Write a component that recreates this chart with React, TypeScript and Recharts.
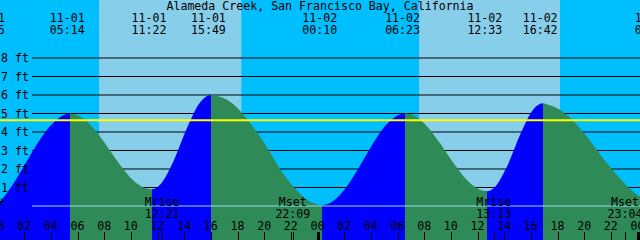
import React from 'react';
import { ComposedChart, Area, XAxis, YAxis, ReferenceArea, ReferenceLine } from 'recharts';

const title = 'Alameda Creek, San Francisco Bay, California';

// tide height (ft), hours from 11-01 00:00
const tideHours = [
  0, 1, 2, 3, 4, 5, 5.233, 6, 7, 8, 9, 10, 11, 11.367, 12, 13, 14, 15, 15.817,
  16, 17, 18, 19, 20, 21, 22, 23, 24, 24.167, 25, 26, 27, 28, 29, 30, 30.383,
  31, 32, 33, 34, 35, 36, 36.55, 37, 38, 39, 40, 40.7, 41, 42, 43, 44, 45, 46, 47, 48,
];
const tideFeet = [
  0.2, 1.2, 2.4, 3.6, 4.5, 4.97, 5.0, 4.84, 4.22, 3.26, 2.23, 1.38, 0.94, 0.9, 1.15, 2.41, 4.17, 5.59, 6.0,
  5.99, 5.75, 5.15, 4.25, 3.2, 2.0, 1.05, 0.35, 0.06, 0.05, 0.27, 1.04, 2.18, 3.41, 4.42, 4.95, 5.0,
  4.9, 4.33, 3.39, 2.34, 1.42, 0.88, 0.8, 0.94, 2.09, 3.84, 5.22, 5.55, 5.5, 5.2, 4.6, 3.75, 2.8, 1.9, 1.1, 0.5,
];

// high / low tide events
const eventHours = [-0.75, 5.233, 11.367, 15.817, 24.167, 30.383, 36.55, 40.7, 49.1];
const eventKinds = ['low', 'high', 'low', 'high', 'low', 'high', 'low', 'high', 'low'];
const eventDates = ['10-31', '11-01', '11-01', '11-01', '11-02', '11-02', '11-02', '11-02', '11-03'];
const eventTimes = ['23:15', '05:14', '11:22', '15:49', '00:10', '06:23', '12:33', '16:42', '01:06'];

const sunrise = [7.43, 31.43];
const sunset = [18.1, 42.0];

const moonHours = [12.35, 22.15, 37.217, 47.067];
const moonNames = ['Mrise', 'Mset', 'Mrise', 'Mset'];
const moonTimes = ['12:21', '22:09', '13:13', '23:04'];

const depthTicks = [0, 1, 2, 3, 4, 5, 6, 7, 8];
const gridFeet = [1, 2, 3, 4, 5, 6, 7, 8];
const hourTicks = [0, 2, 4, 6, 8, 10, 12, 14, 16, 18, 20, 22, 24, 26, 28, 30, 32, 34, 36, 38, 40, 42, 44, 46, 48];
const meanLevel = 4.63;

const Y_MIN = -1.838;
const Y_MAX = 11.135;
const NIGHT = '#00BFFF';
const DAY = '#87CEEB';
const RISE = '#0000FF';
const FALL = '#2E8B57';
const FONT = '"DejaVu Sans Mono", monospace';
const FS = 11.6;
const OFF = -2.5;

const data = tideHours.map((h, i) => ({ h, ft: tideFeet[i] }));

// rising = blue, falling = green, switched at each extreme
const stops: Array<{ offset: number; color: string }> = [];
for (let i = 0; i < eventHours.length - 1; i++) {
  const a = Math.max(0, eventHours[i]);
  const b = Math.min(48, eventHours[i + 1]);
  const color = eventKinds[i + 1] === 'high' ? RISE : FALL;
  stops.push({ offset: a / 48, color }, { offset: b / 48, color });
}

const pad = (n: number) => String(n).padStart(2, '0');

function HourTick(props: any) {
  const v = props.payload.value as number;
  const cx = props.x + OFF;
  const px = Math.round(cx);
  return (
    <g>
      <text x={cx} y={230} textAnchor="middle" fontFamily={FONT} fontSize={FS} fill="#000">{pad(v % 24)}</text>
      {v % 24 === 0
        ? <rect x={px - 1} y={232} width={3} height={8} fill="#000" />
        : <line x1={px + 0.5} x2={px + 0.5} y1={232} y2={240} stroke="#000" />}
    </g>
  );
}

function EventTick(props: any) {
  const i = eventHours.indexOf(props.payload.value);
  const cx = props.x + OFF;
  return (
    <g fontFamily={FONT} fontSize={FS} fill="#000">
      <text x={cx} y={21.5} textAnchor="middle">{eventDates[i]}</text>
      <text x={cx} y={34} textAnchor="middle">{eventTimes[i]}</text>
    </g>
  );
}

function MoonTick(props: any) {
  const i = moonHours.indexOf(props.payload.value);
  const cx = props.x + OFF;
  const px = Math.round(cx);
  return (
    <g fontFamily={FONT} fontSize={FS} fill="#000">
      <text x={cx} y={206} textAnchor="middle">{moonNames[i]}</text>
      <text x={cx} y={218} textAnchor="middle">{moonTimes[i]}</text>
      <line x1={px + 0.5} x2={px + 0.5} y1={232} y2={240} stroke="#000" />
    </g>
  );
}

function DepthTick(props: any) {
  const v = props.payload.value as number;
  if (v === 0) {
    return <text x={-2} y={props.y + 0.5} fontFamily={FONT} fontSize={FS} fill="#000">+</text>;
  }
  return <text x={1} y={props.y + 4.2} fontFamily={FONT} fontSize={FS} fill="#000">{`${v} ft`}</text>;
}

export default function App() {
  return (
    <div style={{ position: 'fixed', left: 0, top: 0, width: 640, height: 240, background: NIGHT, overflow: 'hidden' }}>
      <ComposedChart width={640} height={240} data={data} margin={{ top: -1, right: 0, bottom: -2, left: -1 }}>
        <defs>
          <linearGradient id="tideFill" x1="0" y1="0" x2="1" y2="0">
            {stops.map((s, i) => (
              <stop key={i} offset={s.offset} stopColor={s.color} />
            ))}
          </linearGradient>
        </defs>
        {sunrise.map((r, i) => (
          <ReferenceArea key={'sun' + i} x1={r} x2={sunset[i]} y1={Y_MIN} y2={Y_MAX} fill={DAY} fillOpacity={1} stroke="none" ifOverflow="hidden" zIndex={-200} />
        ))}
        {gridFeet.map(f => (
          <ReferenceLine key={'g' + f} segment={[{ x: 2.4, y: f }, { x: 48, y: f }]} stroke="#000" strokeWidth={1} zIndex={-150} />
        ))}
        <Area
          dataKey="ft"
          type="monotone"
          stroke="none"
          fill="url(#tideFill)"
          fillOpacity={1}
          baseValue={Y_MIN}
          isAnimationActive={false}
          dot={false}
          activeDot={false}
        />
        <ReferenceLine y={meanLevel} stroke="#FFFF00" strokeWidth={2} zIndex={400} />
        <ReferenceLine segment={[{ x: 2.4, y: 0 }, { x: 48, y: 0 }]} stroke="#9ED8F0" strokeWidth={1} zIndex={400} />
        <XAxis dataKey="h" type="number" domain={[0, 48]} allowDataOverflow ticks={hourTicks} interval={0}
          tick={HourTick} axisLine={false} tickLine={false} height={1} />
        <XAxis xAxisId="top" orientation="top" dataKey="h" type="number" domain={[0, 48]} allowDataOverflow
          ticks={eventHours} interval={0} tick={EventTick} axisLine={false} tickLine={false} height={1} />
        <XAxis xAxisId="moon" dataKey="h" type="number" domain={[0, 48]} allowDataOverflow
          ticks={moonHours} interval={0} tick={MoonTick} axisLine={false} tickLine={false} height={1} />
        <YAxis type="number" domain={[Y_MIN, Y_MAX]} allowDataOverflow ticks={depthTicks} interval={0}
          tick={DepthTick} axisLine={false} tickLine={false} width={1} />
        <text x={320} y={10} textAnchor="middle" fontFamily={FONT} fontSize={FS} fill="#000">{title}</text>
      </ComposedChart>
    </div>
  );
}
